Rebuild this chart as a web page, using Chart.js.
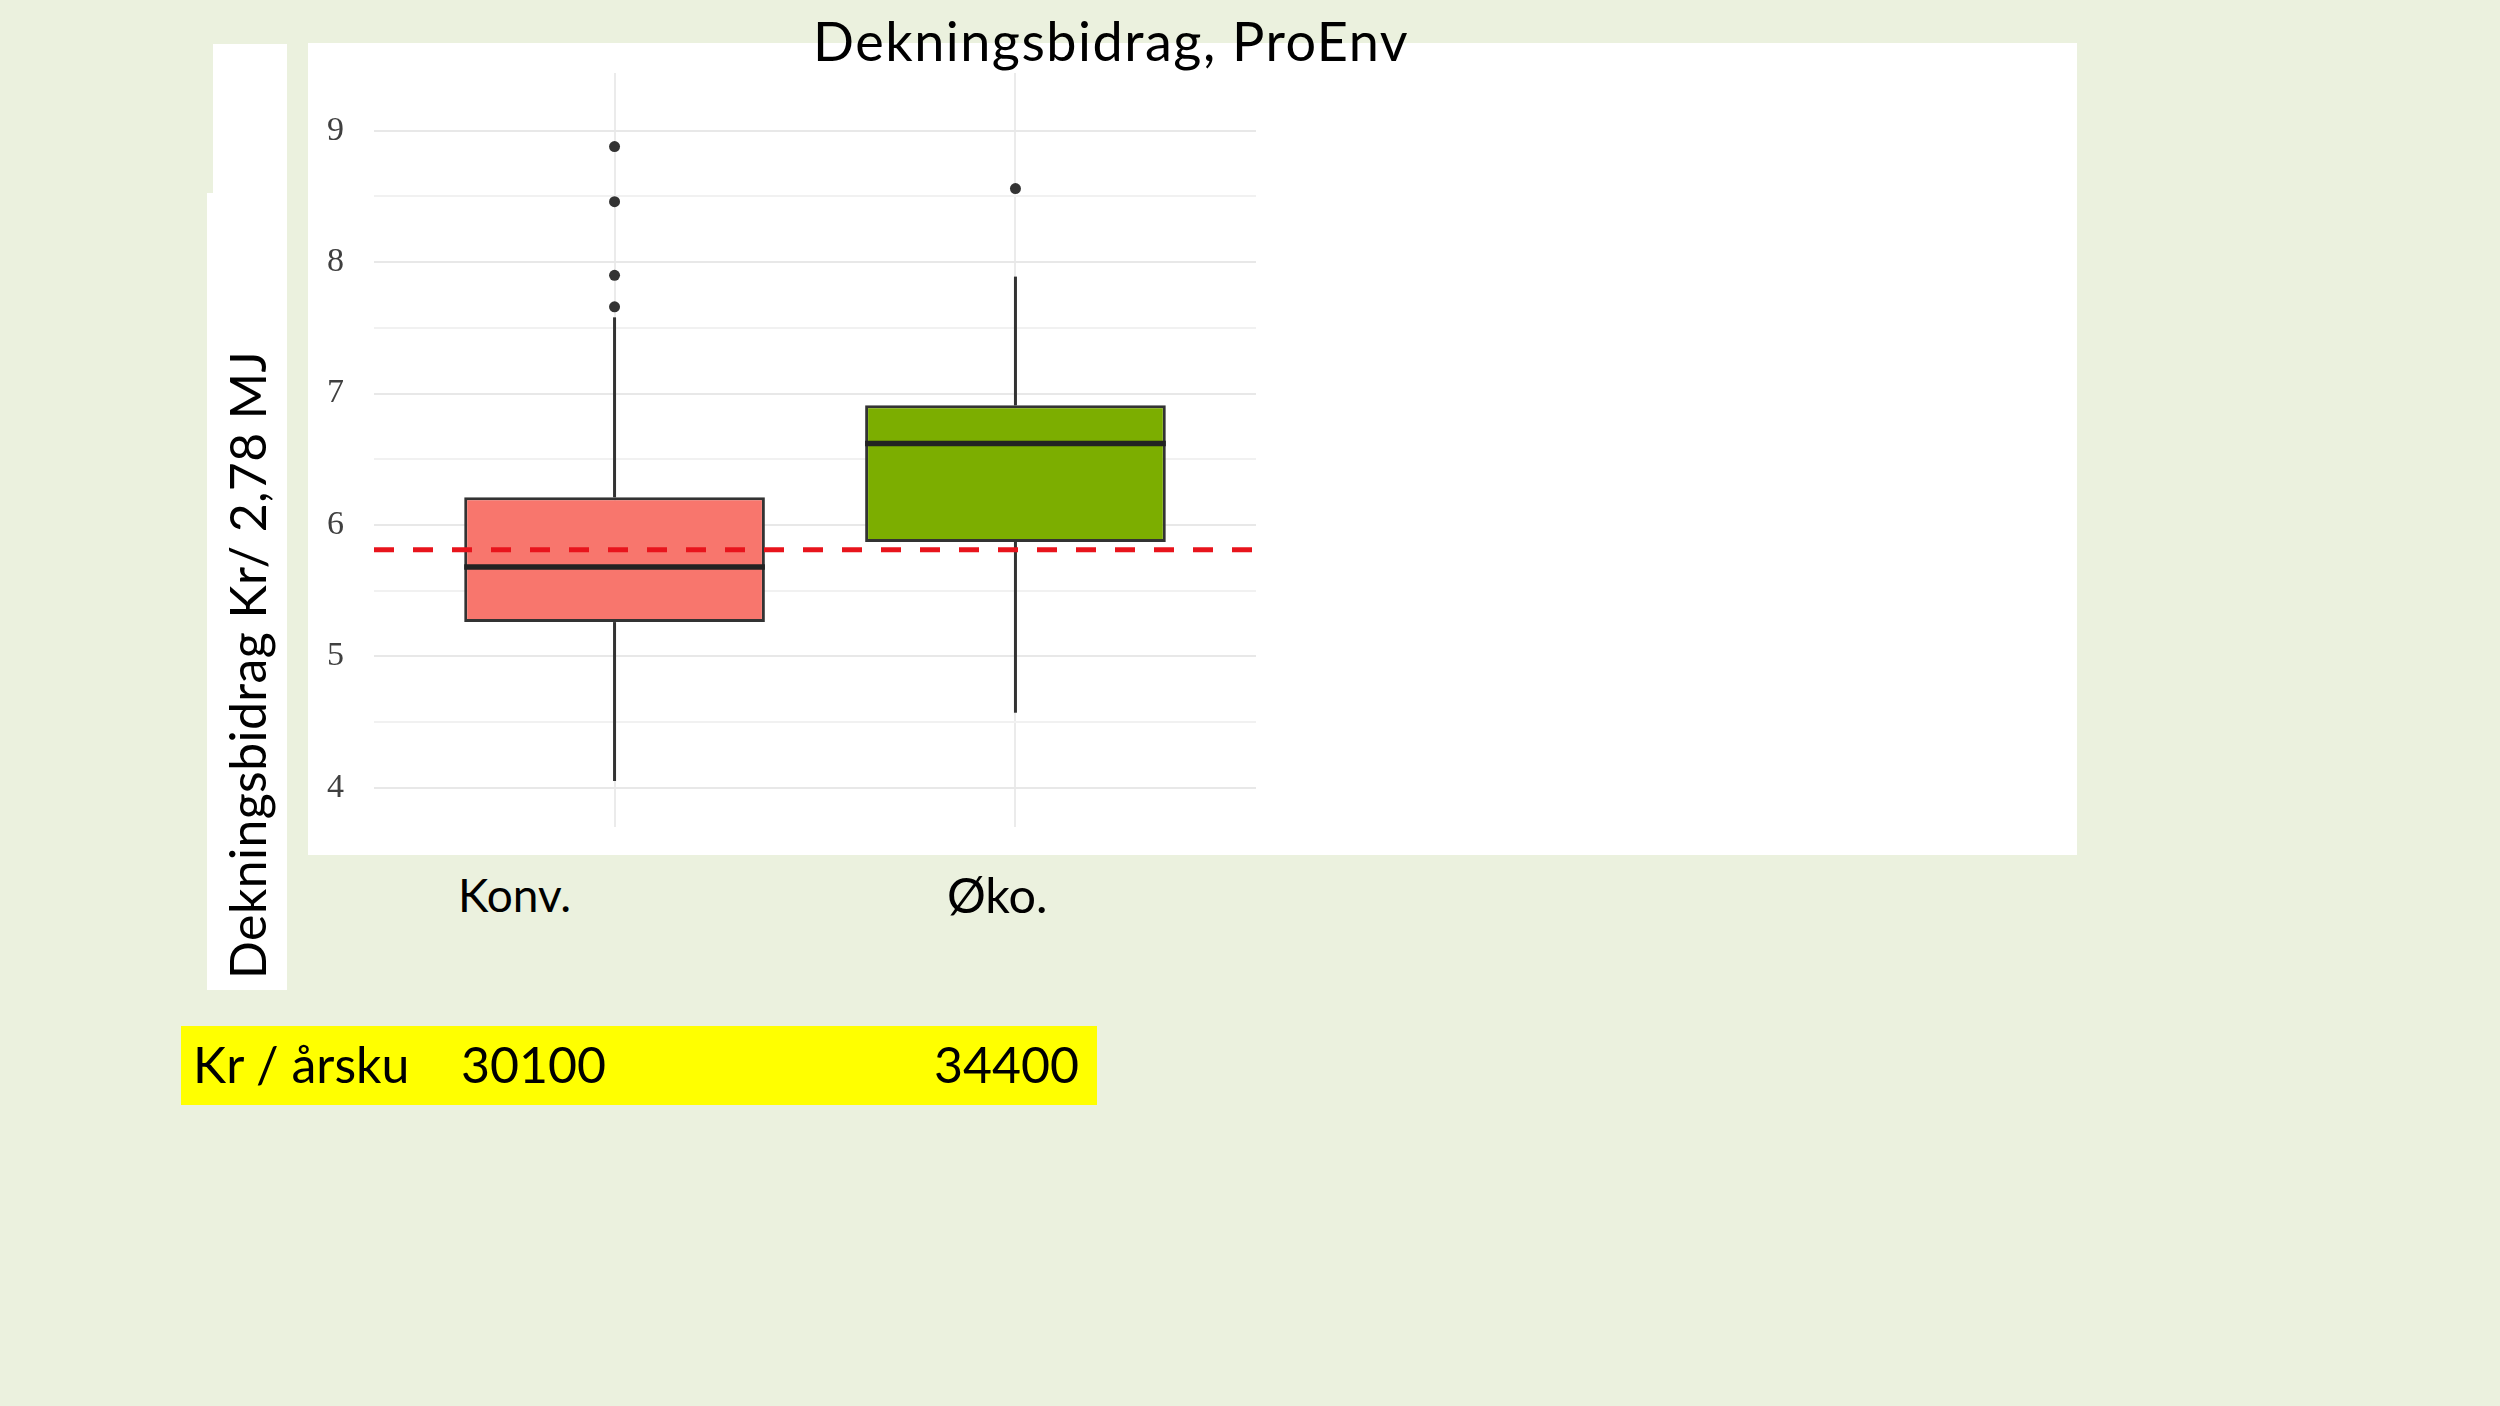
<!DOCTYPE html>
<html>
<head>
<meta charset="utf-8">
<script src="https://cdn.jsdelivr.net/npm/chart.js@4.4.1/dist/chart.umd.min.js"></script>
<style>
  body { margin: 0; width: 2500px; height: 1406px; background: #EBF1DE; position: relative; overflow: hidden; font-family: Lato, sans-serif; color: #000; }
  .txt { position: absolute; white-space: nowrap; line-height: 1; }
  .white { position: absolute; background: #fff; }
  #panel { position: absolute; left: 308px; top: 43px; width: 1769px; height: 812px; background: #fff; }
  #yellow { position: absolute; left: 181px; top: 1026px; width: 916px; height: 79px; background: #FFFF00; }
</style>
</head>
<body>
<div class="white" style="left:213px; top:44px; width:74px; height:150px;"></div>
<div class="white" style="left:207px; top:193px; width:80px; height:797px;"></div>
<div id="panel"><canvas id="chart" width="1769" height="812"></canvas></div>
<div id="yellow"></div>

<div class="txt" id="title" style="left:813px; top:14px; font-size:54px; letter-spacing:1.5px;">Dekningsbidrag, ProEnv</div>
<div class="txt" id="ylabel" style="left:222px; top:979px; font-size:50px; letter-spacing:0.4px; transform: rotate(-90deg); transform-origin: left top;">Dekningsbidrag Kr/ 2,78 MJ</div>
<div class="txt" id="xlab0" style="left:458px; top:872px; font-size:46px;"></div>
<div class="txt" id="xlab1" style="left:947px; top:870px; font-size:48.5px;"></div>
<div class="txt" style="left:193px; top:1039px; font-size:50px;">Kr / årsku</div>
<div class="txt" id="kr0" style="left:461px; top:1039px; font-size:50px;"></div>
<div class="txt" id="kr1" style="right:1421px; top:1039px; font-size:50px;"></div>

<script>
// values
const groups = ['Konv.', 'Øko.']
const groupX = [1, 2]
const whiskerLow = [4.05, 4.57]
const q1 = [5.26, 5.87]
const median = [5.68, 6.62]
const q3 = [6.21, 6.91]
const whiskerHigh = [7.58, 7.89]
const outliers = [[7.66, 7.90, 8.46, 8.88], [8.56]]
const referenceValue = 5.81
const yTicks = [4, 5, 6, 7, 8, 9]
const krPerCow = [30100, 34400]
const boxColors = ['#F8766D', '#7CAE00']

const xMin = 0.4
const xMax = 2.6
const boxHalf = 0.375

document.getElementById('xlab0').textContent = groups[0]
document.getElementById('xlab1').textContent = groups[1]
document.getElementById('kr0').textContent = krPerCow[0]
document.getElementById('kr1').textContent = krPerCow[1]

let datasets = []

// dashed reference line on top
datasets.push({
    type: 'line',
    data: [{ x: xMin, y: referenceValue }, { x: xMax, y: referenceValue }],
    borderColor: '#E8141C',
    borderWidth: 5,
    borderDash: [20, 19],
    pointRadius: 0,
    order: 0
})

groupX.forEach((x, i) => {
    datasets.push({
        type: 'line',
        data: [{ x: x - boxHalf, y: median[i] }, { x: x + boxHalf, y: median[i] }],
        borderColor: '#222222',
        borderWidth: 5.5,
        pointRadius: 0,
        order: 1
    })
    datasets.push({
        type: 'scatter',
        data: outliers[i].map(v => ({ x: x, y: v })),
        backgroundColor: '#333333',
        borderWidth: 0,
        pointRadius: 5.5,
        order: 1
    })
    datasets.push({
        type: 'line',
        data: [{ x: x, y: whiskerLow[i] }, { x: x, y: q1[i] }],
        borderColor: '#333333',
        borderWidth: 3,
        pointRadius: 0,
        order: 3
    })
    datasets.push({
        type: 'line',
        data: [{ x: x, y: q3[i] }, { x: x, y: whiskerHigh[i] }],
        borderColor: '#333333',
        borderWidth: 3,
        pointRadius: 0,
        order: 3
    })
})

// the boxes, q1 to q3
datasets.push({
    type: 'bar',
    data: groupX.map((x, i) => ({ x: x, y: [q1[i], q3[i]] })),
    backgroundColor: boxColors,
    borderColor: '#333333',
    borderWidth: 3,
    borderSkipped: false,
    barPercentage: 0.75,
    categoryPercentage: 1,
    order: 2
})

let yAll = []
for (let v = yTicks[0]; v <= yTicks[yTicks.length - 1]; v += 0.5) yAll.push(v)

const ctx = document.getElementById('chart')

new Chart(ctx, {
    type: 'bar',
    data: { datasets: datasets },
    options: {
        responsive: false,
        animation: false,
        layout: { padding: { top: 30, bottom: 28, left: 0, right: 821 } },
        plugins: { legend: { display: false }, tooltip: { enabled: false } },
        scales: {
            x: {
                type: 'linear',
                min: xMin,
                max: xMax,
                offset: false,
                afterBuildTicks: s => { s.ticks = groupX.map(v => ({ value: v })) },
                afterFit: s => { s.height = 0; s.paddingLeft = 0; s.paddingRight = 0 },
                ticks: { display: false },
                grid: { color: '#EBEBEB', lineWidth: 2, drawTicks: false, offset: false },
                border: { display: false }
            },
            y: {
                type: 'linear',
                min: 3.7,
                max: 9.44,
                afterBuildTicks: s => { s.ticks = yAll.map(v => ({ value: v })) },
                afterFit: s => { s.width = 66; s.paddingTop = 0; s.paddingBottom = 0 },
                ticks: {
                    callback: v => yTicks.includes(v) ? String(v) : '',
                    font: { family: 'Liberation Serif', size: 34 },
                    color: '#404040',
                    padding: 30
                },
                grid: {
                    color: c => yTicks.includes(c.tick.value) ? '#E8E8E8' : '#F1F1F1',
                    lineWidth: 2,
                    drawTicks: false
                },
                border: { display: false }
            }
        }
    }
})
</script>
</body>
</html>
